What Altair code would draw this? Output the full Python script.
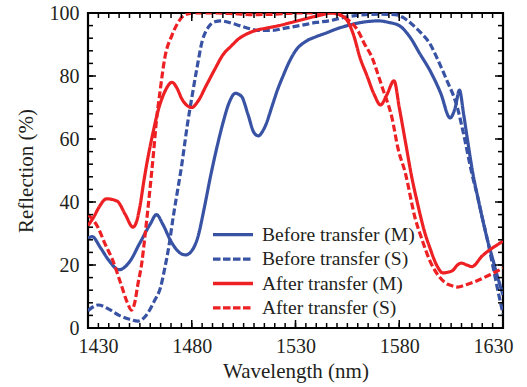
import altair as alt
import pandas as pd

# ---------------- data ----------------
names = ["Before transfer (M)", "Before transfer (S)", "After transfer (M)", "After transfer (S)"]
colors = ["#3953a4", "#3953a4", "#ed2024", "#ed2024"]
dashes = [[1, 0], [7, 3], [1, 0], [7, 3]]

bm_wl = [1430, 1432, 1436, 1440, 1445, 1450, 1455, 1460, 1463, 1466, 1470, 1474, 1477, 1480, 1483, 1486,
         1489, 1492, 1495, 1498, 1501, 1504, 1507, 1510, 1512, 1515, 1519, 1521, 1524, 1527, 1530, 1535,
         1540, 1545, 1550, 1555, 1560, 1565, 1570, 1575, 1580, 1585, 1590, 1595, 1600, 1604.5, 1607, 1609,
         1611, 1612.6, 1615.5, 1618, 1620, 1622.5, 1625, 1627.5, 1630]
bm_r = [28.5, 29, 25.5, 21.5, 18.5, 21, 27, 33, 36, 33, 27.5, 24, 23.2, 24.5, 29, 38,
        48, 57, 65, 71.5, 74.5, 73.5, 68, 62, 61, 63.5, 71, 75, 80, 84.5, 88, 91,
        92.5, 93.7, 95, 96, 96.8, 97.3, 97.5, 97, 96, 92.5, 87, 81.5, 74.5, 66.7, 70, 75.5,
        68, 61, 49, 41, 35, 28, 22, 16, 10.5]

bs_wl = [1430, 1435, 1440, 1445, 1450, 1454, 1458, 1462, 1465, 1467, 1469, 1471, 1473, 1475, 1478, 1480,
         1482.5, 1485, 1488, 1491, 1494, 1498, 1503, 1508, 1512, 1519, 1525, 1532, 1540, 1546, 1555, 1562,
         1570, 1578, 1582, 1586, 1590, 1595, 1598, 1601, 1604, 1606, 1608, 1610.7, 1615, 1618, 1620, 1622.5,
         1625, 1627.5, 1630]
bs_r = [5.5, 7.3, 6, 4, 2.8, 2.2, 4, 8.6, 13, 19, 26, 35, 43, 51, 65, 73,
        82.5, 91, 95.5, 97.2, 97.5, 97, 96, 95, 94.5, 94.5, 95.2, 96, 97, 97.5, 98.8, 99.4,
        99.6, 99.5, 98.5, 96.5, 94, 90, 86, 81.6, 77, 74, 70, 62.5, 49, 41, 35, 28,
        20, 12, 4.5]

am_wl = [1430, 1433, 1435, 1439, 1444, 1448, 1451.7, 1453.5, 1455, 1457, 1459, 1461, 1464, 1467,
         1470.5, 1473, 1475, 1478, 1480, 1483, 1487, 1491, 1495, 1499, 1503, 1507, 1511, 1516, 1522,
         1528, 1535, 1542, 1547, 1551, 1555, 1558, 1561, 1564.5, 1568, 1571, 1574, 1577.5, 1580, 1583,
         1586, 1589, 1592, 1595, 1598, 1601, 1604, 1606, 1608, 1610, 1612.5, 1615, 1620, 1624, 1627, 1630]
am_r = [32.5, 35.5, 38, 41, 40.3, 36, 32, 34, 38.5, 47, 54.5, 61, 69.5, 75,
        78, 76, 73, 70.5, 70, 72, 77, 82, 86.7, 89.5, 92, 93.5, 94.5, 95.2, 96,
        97, 98.2, 99.3, 100, 99.5, 97.5, 93, 86, 80, 74, 70.8, 74, 78.5, 70, 59,
        48, 39, 31, 25, 20, 17.5, 17.8, 18.4, 20, 20.6, 20, 19.5, 22.9, 25, 26.3, 27.6]

as_wl = [1430, 1435, 1438, 1441.6, 1446, 1449, 1451, 1452.5, 1454, 1456, 1457.5, 1460, 1461.5, 1463,
         1464.7, 1467, 1470.5, 1473, 1475, 1478, 1482, 1490, 1500, 1510, 1520, 1530, 1548, 1552, 1556,
         1560, 1563, 1567, 1570, 1572, 1576.5, 1579.4, 1583, 1587.6, 1591, 1595, 1599.6, 1603, 1606,
         1608, 1612, 1617.5, 1624, 1630]
as_r = [36, 31.7, 27, 22, 13.7, 8, 5.7, 8, 13.7, 21, 29.5, 45, 55, 66,
        75, 85.7, 93, 96.5, 98.5, 99.7, 100, 100, 99.8, 99.5, 99.6, 100, 100, 99.3, 97.5,
        94.5, 90.5, 85.7, 80, 76, 66.7, 57, 49, 35, 28, 21, 16, 14, 13.3,
        13, 13.7, 15, 17, 19]

x_major = [1430, 1480, 1530, 1580, 1630]
x_minor = list(range(1435, 1630, 5))
y_major = [0, 20, 40, 60, 80, 100]
y_minor = list(range(4, 100, 4))

# ---------------- layout ----------------
W, H = 415, 315
FONT = "Liberation Serif"
TXT = "#231f20"

rows = []
for name, wl, r in [(names[0], bm_wl, bm_r), (names[1], bs_wl, bs_r),
                    (names[2], am_wl, am_r), (names[3], as_wl, as_r)]:
    for a, b in zip(wl, r):
        rows.append({"wl": a, "R": b, "series": name})
df = pd.DataFrame(rows)

xs = alt.Scale(domain=[1430, 1630], nice=False, zero=False)
ys = alt.Scale(domain=[0, 100], nice=False, zero=False)
xaxis = alt.Axis(values=x_major, format="d", ticks=False, domain=False, grid=False, labelFlush=True,
                 labelFlushOffset=10, labelPadding=8, titlePadding=4)
yaxis = alt.Axis(values=y_major, format="d", ticks=False, domain=False, grid=False,
                 labelPadding=9, titlePadding=13)
XT = "Wavelength (nm)"
YT = "Reflection (%)"

lines = alt.Chart(df).mark_line(strokeWidth=3.2, clip=True, interpolate="monotone").encode(
    x=alt.X("wl:Q", scale=xs, title=XT, axis=xaxis),
    y=alt.Y("R:Q", scale=ys, title=YT, axis=yaxis),
    color=alt.Color("series:N", scale=alt.Scale(domain=names, range=colors), legend=None),
    strokeDash=alt.StrokeDash("series:N", scale=alt.Scale(domain=names, range=dashes), legend=None),
)


def xticks(vals, length, side):
    d = pd.DataFrame({"wl": vals})
    if side == "bottom":
        yy, yy2 = H, H - length
    else:
        yy, yy2 = 0, length
    return alt.Chart(d).mark_rule(color="black", strokeWidth=1.5).encode(
        x=alt.X("wl:Q", scale=xs, title=XT, axis=xaxis), y=alt.value(yy), y2=alt.value(yy2))


def yticks(vals, length, side):
    d = pd.DataFrame({"R": vals})
    if side == "left":
        xx, xx2 = 0, length
    else:
        xx, xx2 = W, W - length
    return alt.Chart(d).mark_rule(color="black", strokeWidth=1.5).encode(
        y=alt.Y("R:Q", scale=ys, title=YT, axis=yaxis), x=alt.value(xx), x2=alt.value(xx2))


tick_layers = []
for side in ["bottom", "top"]:
    tick_layers.append(xticks(x_major, 8, side))
    tick_layers.append(xticks(x_minor, 5, side))
for side in ["left", "right"]:
    tick_layers.append(yticks(y_major, 8, side))
    tick_layers.append(yticks(y_minor, 5, side))

legend_layers = []
for i, name in enumerate(names):
    ly = 221.7 + 24.4 * i
    d = pd.DataFrame({"series": [name]})
    legend_layers.append(alt.Chart(d).mark_rule(strokeWidth=3.3, color=colors[i],
                                                 strokeDash=[7.5, 2.5] if i % 2 else [1, 0]).encode(
        x=alt.value(125), x2=alt.value(165), y=alt.value(ly)))
    legend_layers.append(alt.Chart(d).mark_text(align="left", baseline="middle", font=FONT,
                                                 fontSize=19.5, color=TXT).encode(
        text="series:N", x=alt.value(174), y=alt.value(ly)))

chart = alt.layer(lines, *tick_layers, *legend_layers).properties(
    width=W, height=H,
    autosize=alt.AutoSizeParams(type="none"),
    padding={"left": 88, "top": 13, "right": 24, "bottom": 59},
).configure_view(
    stroke="black", strokeWidth=2.2
).configure_axis(
    labelFont=FONT, titleFont=FONT, labelFontSize=20, titleFontSize=21,
    labelColor=TXT, titleColor=TXT, titleFontWeight="normal"
)

chart.save("out.html", embed_options={"renderer": "svg", "actions": False})
